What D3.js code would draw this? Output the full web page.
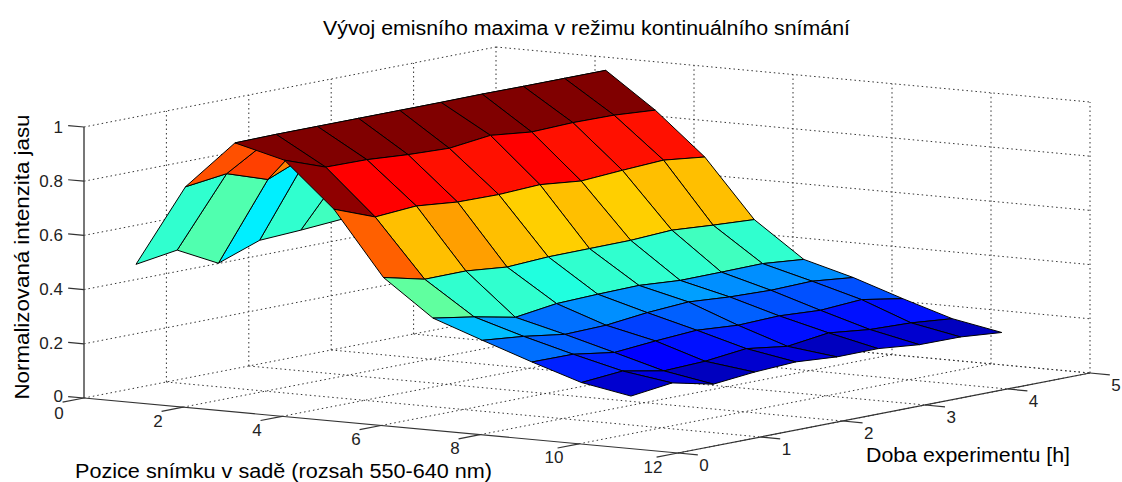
<!DOCTYPE html>
<html><head><meta charset="utf-8">
<style>html,body{margin:0;padding:0;background:#fff}svg{display:block}text{font-family:"Liberation Sans",Arial,sans-serif;fill:#000}</style>
<script src="https://d3js.org/d3.v7.min.js"></script>
</head><body><svg id="c" width="1122" height="482"></svg>
<script>
const titleText = "Vývoj emisního maxima v režimu kontinuálního snímání";
const xTitle = "Pozice snímku v sadě (rozsah 550-640 nm)";
const yTitle = "Doba experimentu [h]";
const zTitle = "Normalizovaná intenzita jasu";
const xTicks = [0,2,4,6,8,10,12];
const yTicks = [0,1,2,3,4,5];
const zTicks = [0,0.2,0.4,0.6,0.8,1];
const xGrid = [1.05,2.05,3.05,4.05,5.05,6.05,7.05,8.05,9.05,10.05,11.05];
const yGrid = [0,0.5,1,1.5,2,2.5,3,3.5,4,4.5];
const zPos1  = [.511,.534,.456,.511,.519,.530,.520,.515,.520,.515];
const zPos2  = [.814,.833,.782,.845,.790,.800,.810,.800,.805,.800];
const zPos3  = [.993,.995,.995,.995,.995,.995,.996,.995,.995,.995];
const zPos4  = [.946,.891,.889,.878,.872,.890,.873,.878,.876,.865];
const zPos5  = [.782,.724,.735,.720,.718,.725,.709,.719,.727,.709];
const zPos6  = [.547,.511,.512,.497,.505,.506,.507,.515,.504,.495];
const zPos7  = [.414,.389,.358,.379,.384,.387,.376,.377,.379,.365];
const zPos8  = [.349,.334,.312,.316,.333,.343,.332,.327,.331,.315];
const zPos9  = [.286,.285,.262,.275,.285,.274,.279,.270,.280,.254];
const zPos10 = [.227,.240,.211,.217,.234,.213,.233,.216,.211,.197];
const zPos11 = [.194,.213,.179,.194,.202,.191,.192,.177,.176,.163];
const Z = [zPos1,zPos2,zPos3,zPos4,zPos5,zPos6,zPos7,zPos8,zPos9,zPos10,zPos11];
const cPos4 = [.973,.891,.889,.878,.872,.890,.873,.878,.876,.865];
const cPos5 = [.803,.732,.750,.732,.722,.733,.712,.733,.735,.717];
const C = Z.map((r,i)=>i===3?cPos4:i===4?cPos5:r);

// oblique projection built from three linear scales
const xPX = d3.scaleLinear().domain([0,12]).range([0,594]);
const xPY = d3.scaleLinear().domain([0,12]).range([0,55]);
const yPX = d3.scaleLinear().domain([0,5]).range([0,412]);
const yPY = d3.scaleLinear().domain([0,5]).range([0,-80]);
const zPY = d3.scaleLinear().domain([0,1]).range([0,-271]);
const O = [84,398];
const P = (x,y,z)=>[O[0]+xPX(x)+yPX(y), O[1]+xPY(x)+yPY(y)+zPY(z)];

const jet = d3.range(64).map(i=>{
  const t=(i+1)/64, c=v=>Math.round(255*Math.max(0,Math.min(1,v)));
  return `rgb(${c(1.5-Math.abs(4*t-3))},${c(1.5-Math.abs(4*t-2))},${c(1.5-Math.abs(4*t-1))})`;
});
const color = d3.scaleQuantize().domain(d3.extent(Z.flat())).range(jet);

const svg = d3.select("#c");
const line = d3.line();
const gridG = svg.append("g").attr("fill","none").attr("stroke","#333").attr("stroke-width",1).attr("stroke-dasharray","1.5 3");
const seg = (g,a,b)=>g.append("path").attr("d",line([a,b]));
// back walls and floor
zTicks.forEach(z=>{ seg(gridG,P(0,0,z),P(0,5,z)); seg(gridG,P(0,5,z),P(12,5,z)); });
yTicks.slice(1).forEach(y=>{ seg(gridG,P(0,y,0),P(0,y,1)); if(y<5) seg(gridG,P(0,y,0),P(12,y,0)); });
xTicks.slice(1).forEach(x=>{ seg(gridG,P(x,5,0),P(x,5,1)); seg(gridG,P(x,0,0),P(x,5,0)); });
seg(gridG,P(0,5,0),P(12,5,0));

// axes
const axG = svg.append("g").attr("fill","none").attr("stroke","#333").attr("stroke-width",1.2);
seg(axG,P(0,0,0),P(0,0,1)).attr("stroke","#555").attr("stroke-width",1.6);
seg(axG,P(0,0,0),P(12,0,0));
seg(axG,P(12,0,0),P(12,5,0));
zTicks.forEach(z=>seg(axG,P(0,0,z),P(-0.32,0,z)));
xTicks.forEach(x=>seg(axG,P(x,0,0),P(x,-0.26,0)));
yTicks.forEach(y=>seg(axG,P(12,y,0),P(12.4,y,0)));

// surface, far faces first
const faces=[];
for(let i=0;i<xGrid.length-1;i++) for(let j=yGrid.length-2;j>=0;j--){
  faces.push({c:C[i][j],pts:[[i,j],[i+1,j],[i+1,j+1],[i,j+1]].map(([a,b])=>P(xGrid[a],yGrid[b],Z[a][b]))});
}
svg.append("g").selectAll("path").data(faces).join("path")
  .attr("d",d=>line(d.pts)+"Z").attr("fill",d=>color(d.c))
  .attr("stroke","#000").attr("stroke-width",1).attr("stroke-linejoin","round");

// tick labels
const lab=(x,y,t,size,anchor="middle",len)=>{const s=svg.append("text").attr("x",x).attr("y",y).attr("text-anchor",anchor)
  .attr("dominant-baseline","central").attr("font-size",size).text(t);
  if(len) s.attr("textLength",len).attr("lengthAdjust","spacingAndGlyphs"); return s;};
zTicks.forEach(z=>{const p=P(0,0,z);lab(p[0]-21,p[1]-(z===0?2:0),String(z),17,"end").style("fill","#222");});
xTicks.forEach(x=>{const p=P(x,0,0);lab(p[0]-25,p[1]+14+(x===0?1:0),String(x),17).style("fill","#222");});
yTicks.forEach(y=>{const p=P(12,y,0);lab(p[0]+26,p[1]+12,String(y),17).style("fill","#222");});

// titles
lab(586.5,28,titleText,20,"middle",527);
lab(283.5,471,xTitle,20,"middle",417);
lab(968,455,yTitle,20,"middle",204);
svg.append("text").attr("transform","translate(22,257) rotate(-90)").attr("text-anchor","middle")
  .attr("dominant-baseline","central").attr("font-size",20).attr("textLength",285).attr("lengthAdjust","spacingAndGlyphs").text(zTitle);
</script></body></html>
